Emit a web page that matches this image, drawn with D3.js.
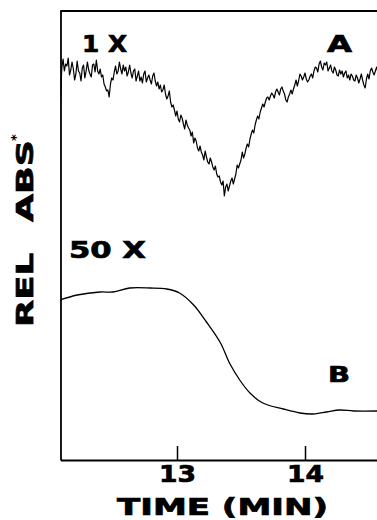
<!DOCTYPE html>
<html>
<head>
<meta charset="utf-8">
<script src="https://cdn.jsdelivr.net/npm/d3@7"></script>
<style>
  body { margin: 0; background: #fff; }
  svg { display: block; }
</style>
</head>
<body>
<svg id="chart" width="377" height="520"></svg>
<script>
// time axis (min)
const timeTicks = [13, 14];

// trace A, 1X (noisy recorder trace, read every 0.01 min)
const timesA = [
  12.09,12.10,12.11,12.12,12.13,12.14,12.15,12.16,12.17,12.18,
  12.19,12.20,12.21,12.22,12.23,12.24,12.25,12.26,12.27,12.28,
  12.29,12.30,12.31,12.32,12.33,12.34,12.35,12.36,12.37,12.38,
  12.39,12.40,12.41,12.42,12.43,12.44,12.45,12.46,12.47,12.48,
  12.49,12.50,12.51,12.52,12.53,12.54,12.55,12.56,12.57,12.58,
  12.59,12.60,12.61,12.62,12.63,12.64,12.65,12.66,12.67,12.68,
  12.69,12.70,12.71,12.72,12.73,12.74,12.75,12.76,12.77,12.78,
  12.79,12.80,12.81,12.82,12.83,12.84,12.85,12.86,12.87,12.88,
  12.89,12.90,12.91,12.92,12.93,12.94,12.95,12.96,12.97,12.98,
  12.99,13.00,13.01,13.02,13.03,13.04,13.05,13.06,13.07,13.08,
  13.09,13.10,13.11,13.12,13.13,13.14,13.15,13.16,13.17,13.18,
  13.19,13.20,13.21,13.22,13.23,13.24,13.25,13.26,13.27,13.28,
  13.29,13.30,13.31,13.32,13.33,13.34,13.35,13.36,13.37,13.38,
  13.39,13.40,13.41,13.42,13.43,13.44,13.45,13.46,13.47,13.48,
  13.49,13.50,13.51,13.52,13.53,13.54,13.55,13.56,13.57,13.58,
  13.59,13.60,13.61,13.62,13.63,13.64,13.65,13.66,13.67,13.68,
  13.69,13.70,13.71,13.72,13.73,13.74,13.75,13.76,13.77,13.78,
  13.79,13.80,13.81,13.82,13.83,13.84,13.85,13.86,13.87,13.88,
  13.89,13.90,13.91,13.92,13.93,13.94,13.95,13.96,13.97,13.98,
  13.99,14.00,14.01,14.02,14.03,14.04,14.05,14.06,14.07,14.08,
  14.09,14.10,14.11,14.12,14.13,14.14,14.15,14.16,14.17,14.18,
  14.19,14.20,14.21,14.22,14.23,14.24,14.25,14.26,14.27,14.28,
  14.29,14.30,14.31,14.32,14.33,14.34,14.35,14.36,14.37,14.38,
  14.39,14.40,14.41,14.42,14.43,14.44,14.45,14.46,14.47,14.48,
  14.49,14.50,14.51,14.52,14.53,14.54,14.55,14.56,14.57
];
const absA = [
  36.3,39.2,40.1,38.9,39.6,39.4,40.2,38.5,39.0,39.8,
  39.1,38.0,38.6,39.9,38.9,38.7,37.9,39.2,39.5,38.2,
  38.9,39.8,39.0,38.6,38.3,39.5,39.6,38.8,40.0,38.9,
  38.6,39.1,38.3,38.5,37.6,37.3,36.9,37.0,36.3,37.6,
  38.2,38.0,38.8,39.4,38.6,38.9,39.8,39.1,38.6,39.5,
  38.9,39.3,38.4,38.8,39.5,38.7,38.2,38.9,39.1,37.9,
  38.4,38.9,37.9,38.3,37.7,38.6,38.9,37.8,38.2,38.5,
  38.0,37.6,38.4,38.7,37.9,37.4,37.8,37.1,37.5,36.8,
  37.0,37.5,36.6,36.1,36.4,36.9,35.8,35.3,35.5,35.0,
  34.4,34.9,34.1,33.8,34.5,34.2,33.6,33.1,34.0,33.5,
  33.2,33.0,32.4,32.8,31.7,32.2,31.9,31.2,30.9,31.4,
  30.8,30.5,30.0,30.9,30.3,29.8,29.6,30.2,29.8,29.3,
  29.0,29.4,28.6,28.3,28.4,27.8,27.5,27.9,26.4,27.3,
  27.6,26.9,27.4,27.9,28.2,27.6,28.1,28.6,29.5,29.2,
  29.6,30.0,30.8,30.2,30.6,31.2,31.6,31.3,32.1,32.6,
  33.0,32.7,33.5,34.0,34.4,34.1,34.8,35.2,35.6,35.3,
  35.8,36.2,36.3,36.0,36.4,36.7,36.5,36.2,36.8,37.1,
  36.8,36.5,37.1,37.3,36.9,36.6,36.0,35.8,36.3,36.6,
  37.0,36.6,37.1,37.5,38.0,37.4,37.9,38.6,38.4,38.0,
  38.3,38.7,38.1,37.8,38.0,38.4,38.6,38.2,38.9,39.3,
  39.2,38.8,39.6,39.9,39.3,39.0,39.7,39.5,39.8,38.9,
  39.2,39.5,38.9,38.7,39.3,39.0,38.5,38.4,39.0,38.6,
  38.9,38.3,38.7,38.9,38.2,38.5,38.0,38.6,38.4,38.0,
  37.9,38.5,38.2,37.7,38.1,38.6,38.0,37.5,37.2,38.1,
  38.6,38.1,38.9,39.2,38.8,38.5,38.9,39.3,38.8
];

// trace B, 50X (smooth)
const timesB = [12.086,12.22,12.40,12.50,12.63,12.79,12.92,13.02,13.13,13.23,13.34,
                13.41,13.49,13.57,13.67,13.83,13.96,14.06,14.17,14.27,14.38,14.57];
const absB = [16.0,16.5,16.8,16.8,17.2,17.2,17.1,16.7,15.5,13.8,11.7,
              9.7,8.0,6.7,5.7,5.1,4.7,4.6,4.8,5.0,4.9,4.9];

const svg = d3.select("#chart");
const m = {left: 60.5, right: 377, top: 10.5, bottom: 460};
const font = "'DejaVu Sans', sans-serif";

const x = d3.scaleLinear().domain([12.0898, 14.5625]).range([m.left, m.right]);
const y = d3.scaleLinear().domain([0, 45]).range([m.bottom, m.top - 0.5]);

svg.append("defs").append("clipPath").attr("id", "plot")
  .append("rect").attr("x", m.left).attr("y", 0).attr("width", m.right - m.left).attr("height", m.bottom);

// frame: top rule
svg.append("line")
  .attr("x1", m.left).attr("x2", m.right).attr("y1", 11).attr("y2", 11)
  .attr("stroke", "#000").attr("stroke-width", 2);

// left axis, no ticks
svg.append("g")
  .attr("transform", "translate(" + m.left + ",0)")
  .call(d3.axisLeft(y).ticks(0).tickSizeOuter(0))
  .call(g => g.select(".domain").attr("stroke-width", 1.8));

// bottom axis, ticks point up into the plot
const xAxis = svg.append("g")
  .attr("transform", "translate(0," + m.bottom + ")")
  .call(d3.axisBottom(x).tickValues(timeTicks).tickSizeInner(-14).tickSizeOuter(0).tickFormat(d3.format("d")));
xAxis.select(".domain").attr("stroke-width", 2);
xAxis.selectAll(".tick line").attr("stroke-width", 1.5);
xAxis.selectAll(".tick text")
  .attr("y", 22).attr("dy", 0)
  .attr("font-family", font).attr("font-weight", "bold").attr("font-size", 23)
  .attr("fill", "#000").attr("stroke", "#000").attr("stroke-width", 0.7)
  .attr("textLength", 37).attr("lengthAdjust", "spacingAndGlyphs");

// traces
const lineA = d3.line().x((d, i) => x(timesA[i])).y(d => y(d));
svg.append("path")
  .datum(absA)
  .attr("clip-path", "url(#plot)")
  .attr("fill", "none").attr("stroke", "#000").attr("stroke-width", 1.2)
  .attr("stroke-linejoin", "round")
  .attr("d", lineA);

const lineB = d3.line().x((d, i) => x(timesB[i])).y(d => y(d)).curve(d3.curveCatmullRom);
svg.append("path")
  .datum(absB)
  .attr("clip-path", "url(#plot)")
  .attr("fill", "none").attr("stroke", "#000").attr("stroke-width", 1.3)
  .attr("d", lineB);

// labels
function label(parent, txt, tx, ty, size, len){
  parent.append("text")
    .attr("x", tx).attr("y", ty)
    .attr("font-family", font).attr("font-weight", "bold").attr("font-size", size)
    .attr("fill", "#000").attr("stroke", "#000").attr("stroke-width", 0.7)
    .attr("textLength", len).attr("lengthAdjust", "spacingAndGlyphs")
    .text(txt);
}
label(svg, "1 X", 82, 52, 23, 45);
label(svg, "A", 327, 52, 23, 25);
label(svg, "50 X", 69, 258, 23, 77);
label(svg, "B", 328, 382, 21, 22);
label(svg, "TIME  (MIN)", 117, 515, 23, 211);

// y axis title, rotated
const yTitle = svg.append("g").attr("transform", "translate(33,327) rotate(-90)");
label(yTitle, "REL", 0, 0, 23, 74);
label(yTitle, "ABS", 105, 0, 23, 82);
yTitle.append("text")
  .attr("x", 186).attr("y", -13)
  .attr("font-family", font).attr("font-weight", "bold").attr("font-size", 13)
  .attr("fill", "#000")
  .text("*");
</script>
</body>
</html>
